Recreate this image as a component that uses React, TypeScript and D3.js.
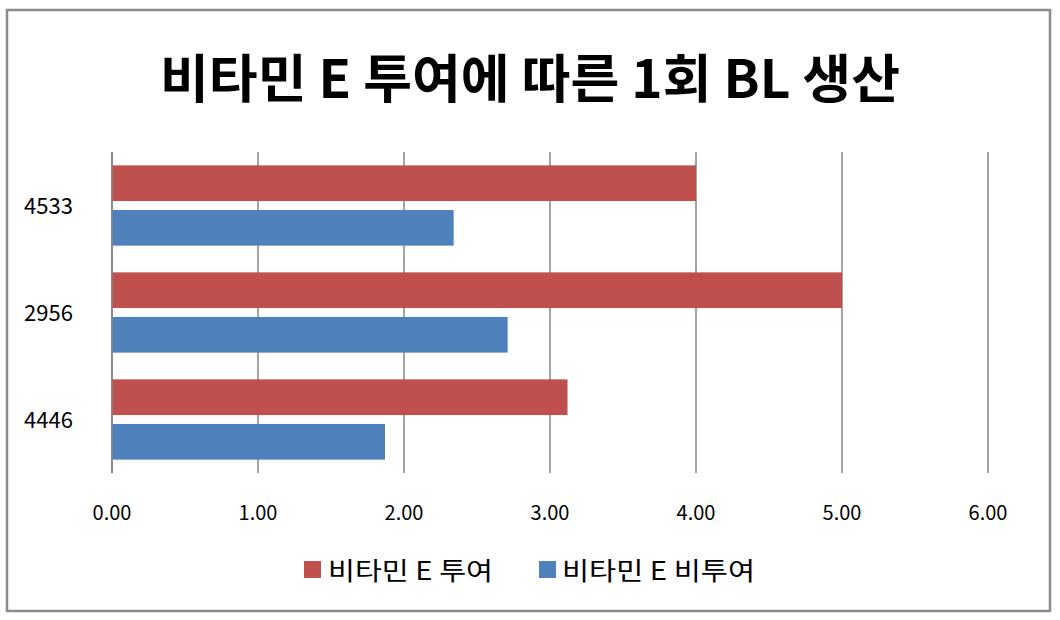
import React from "react";
import * as d3 from "d3";

const categories = ["4533", "2956", "4446"];
const seriesNames = ["비타민 E 투여", "비타민 E 비투여"];
const givenValues = [4.0, 5.0, 3.12];
const notGivenValues = [2.34, 2.71, 1.87];
const xTicks = [0, 1, 2, 3, 4, 5, 6];
const colors = ["#C0504D", "#4F81BD"];
const title = "비타민 E 투여에 따른 1회 BL 생산";

const W = 1060;
const H = 620;
const plot = { left: 112, right: 988, top: 152, bottom: 473 };
const FONT = "'Noto Sans CJK KR', 'Noto Sans', sans-serif";

export default function App() {
  const x = d3.scaleLinear().domain([0, 6]).range([plot.left, plot.right]);
  const y = d3
    .scaleBand<string>()
    .domain(categories)
    .range([plot.top, plot.bottom])
    .paddingInner(0.25)
    .paddingOuter(0.125);
  const inner = d3
    .scaleBand<number>()
    .domain([0, 1])
    .range([0, y.bandwidth()])
    .paddingInner(0.2);
  const series = [givenValues, notGivenValues];

  return (
    <svg
      width={W}
      height={H}
      style={{ position: "absolute", left: 0, top: 0, background: "#fff" }}
      fontFamily={FONT}
    >
      <rect x={0} y={0} width={W} height={H} fill="#fff" />
      <rect x={7} y={10} width={1043} height={601} fill="#fff" stroke="#8c8c8c" strokeWidth={2.5} />
      <text
        x={530}
        y={98}
        textAnchor="middle"
        fontSize={52}
        fontWeight="bold"
        textLength={740}
        lengthAdjust="spacingAndGlyphs"
        fill="#000"
      >
        {title}
      </text>
      {xTicks.map((t) => (
        <g key={t}>
          <line x1={x(t)} x2={x(t)} y1={plot.top} y2={plot.bottom} stroke="#868686" strokeWidth={1.5} />
          <text x={x(t)} y={520} textAnchor="middle" fontSize={20} fill="#000">
            {d3.format(".2f")(t)}
          </text>
        </g>
      ))}
      {series.map((vals, si) =>
        categories.map((c, ci) => (
          <rect
            key={`${si}-${c}`}
            x={x(0)}
            y={(y(c) as number) + (inner(si) as number)}
            width={x(vals[ci]) - x(0)}
            height={inner.bandwidth()}
            fill={colors[si]}
          />
        ))
      )}
      <line x1={plot.left} x2={plot.left} y1={plot.top} y2={plot.bottom} stroke="#868686" strokeWidth={1.5} />
      {categories.map((c) => (
        <text
          key={c}
          x={24}
          y={(y(c) as number) + y.bandwidth() / 2 + 8}
          fontSize={22}
          fill="#000"
        >
          {c}
        </text>
      ))}
      <g>
        <rect x={304} y={561} width={17} height={17} fill={colors[0]} />
        <text x={328} y={580} fontSize={25} fill="#000" textLength={165} lengthAdjust="spacingAndGlyphs">
          {seriesNames[0]}
        </text>
        <rect x={539} y={561} width={17} height={17} fill={colors[1]} />
        <text x={562} y={580} fontSize={25} fill="#000" textLength={193} lengthAdjust="spacingAndGlyphs">
          {seriesNames[1]}
        </text>
      </g>
    </svg>
  );
}
